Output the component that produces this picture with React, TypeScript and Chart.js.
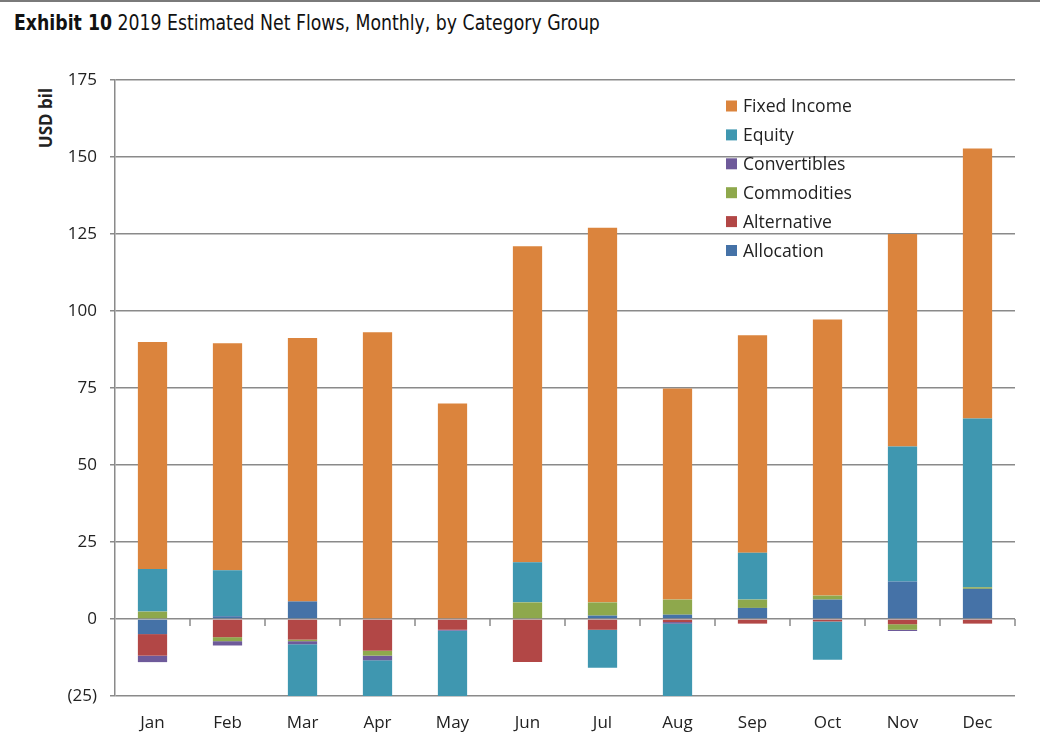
import { useEffect, useRef } from "react";
import { Chart, registerables } from "chart.js";

Chart.register(...registerables);

const months = ["Jan", "Feb", "Mar", "Apr", "May", "Jun", "Jul", "Aug", "Sep", "Oct", "Nov", "Dec"];

// USD bil (bars below -25 are cut off in the original)
const allocation = [-4.9, 0.9, 5.7, 0, 0, 0, 1.1, 1.4, 3.6, 6.3, 12.2, 9.8];
const alternative = [-7.0, -5.9, -6.7, -10.3, -3.5, -14.0, -3.5, -1.0, -1.5, -0.8, -1.7, -1.5];
const commodities = [2.4, -1.3, -0.5, -1.6, 0, 5.4, 4.3, 4.9, 2.7, 1.3, -1.8, 0.5];
const convertibles = [-2.1, -1.4, -1.0, -1.5, -0.3, 0, 0, -0.5, 0, 0, -0.4, 0];
const equity = [13.8, 14.9, -22.0, -18.0, -30.0, 13.0, -12.3, -28.0, 15.2, -12.4, 43.8, 54.8];
const fixedIncome = [73.7, 73.7, 85.5, 93.1, 70.0, 102.6, 121.6, 68.5, 70.6, 89.6, 69.0, 87.7];

const yTicks = [-25, 0, 25, 50, 75, 100, 125, 150, 175];

const FONT = '"Open Sans", "Noto Sans", sans-serif';
const GRID = "#8a8a8a";
const TEXT = "#222";

// Excel-style legend drawn inside the plot area, last series first
const insideLegend = {
  id: "insideLegend",
  afterDraw(chart: any) {
    const { ctx, chartArea } = chart;
    const items = chart.data.datasets.slice().reverse();
    const bx = chartArea.left + 611;
    const y0 = chartArea.top + 26;
    ctx.save();
    ctx.font = `17.6px ${FONT}`;
    ctx.textBaseline = "middle";
    items.forEach((d: any, i: number) => {
      const y = y0 + i * 28.9;
      ctx.fillStyle = d.backgroundColor;
      ctx.fillRect(bx, y - 5.5, 11, 11);
      ctx.fillStyle = TEXT;
      ctx.fillText(d.label, bx + 17, y + 1);
    });
    ctx.restore();
  },
};

// category tick marks hanging off the zero line
const zeroAxis = {
  id: "zeroAxis",
  beforeDatasetsDraw(chart: any) {
    const { ctx } = chart;
    const x = chart.scales.x;
    const y0 = chart.scales.y.getPixelForValue(0);
    const n = chart.data.labels.length;
    ctx.save();
    ctx.strokeStyle = GRID;
    ctx.lineWidth = 1.5;
    ctx.beginPath();
    for (let i = 1; i <= n; i++) {
      const px = i === n ? x.right : (x.getPixelForValue(i - 1) + x.getPixelForValue(i)) / 2;
      ctx.moveTo(px, y0);
      ctx.lineTo(px, y0 + 7);
    }
    ctx.stroke();
    ctx.restore();
  },
};

export default function App() {
  const canvasRef = useRef<HTMLCanvasElement | null>(null);
  const chartRef = useRef<Chart | null>(null);

  useEffect(() => {
    if (!canvasRef.current) return;
    chartRef.current?.destroy();

    const bar = (label: string, data: number[], color: string) => ({
      label,
      data,
      backgroundColor: color,
      borderWidth: 0,
      categoryPercentage: 1,
      barPercentage: 0.39,
    });

    chartRef.current = new Chart(canvasRef.current, {
      type: "bar",
      data: {
        labels: months,
        datasets: [
          bar("Allocation", allocation, "#4572A7"),
          bar("Alternative", alternative, "#B24746"),
          bar("Commodities", commodities, "#8EA84C"),
          bar("Convertibles", convertibles, "#6E5A9A"),
          bar("Equity", equity, "#3F97B0"),
          bar("Fixed Income", fixedIncome, "#DB843D"),
        ],
      },
      options: {
        responsive: true,
        maintainAspectRatio: false,
        animation: false,
        layout: { padding: { top: 80, right: 25, left: 0, bottom: 0 } },
        plugins: {
          legend: { display: false },
          tooltip: { enabled: false },
        },
        scales: {
          x: {
            stacked: true,
            grid: { display: false, drawTicks: false },
            border: { display: false },
            ticks: {
              color: TEXT,
              font: { family: FONT, size: 17 },
              padding: 17,
              maxRotation: 0,
            },
            afterFit: (s: any) => {
              s.height = 57;
            },
          },
          y: {
            stacked: true,
            min: -25,
            max: 175,
            afterBuildTicks: (s: any) => {
              s.ticks = yTicks.map((v) => ({ value: v }));
            },
            grid: { color: GRID, lineWidth: 1.5, tickLength: 5 },
            border: { display: true, color: GRID, width: 1.5 },
            ticks: {
              color: TEXT,
              font: { family: FONT, size: 17 },
              padding: 13,
              callback: (v: any) => (v < 0 ? `(${-v})` : `${v}`),
            },
            afterFit: (s: any) => {
              s.width = 115;
            },
          },
        },
      },
      plugins: [zeroAxis, insideLegend],
    });

    return () => chartRef.current?.destroy();
  }, []);

  return (
    <div
      style={{
        position: "absolute",
        left: 0,
        top: 0,
        width: 1040,
        height: 753,
        background: "#fff",
        overflow: "hidden",
      }}
    >
      <div style={{ position: "absolute", left: 0, top: 0, width: 1040, height: 2, background: "#7a7a7a" }} />
      <div
        style={{
          position: "absolute",
          left: 14,
          top: 10,
          whiteSpace: "nowrap",
          fontFamily: '"Liberation Sans Narrow", "DejaVu Sans Condensed", "Liberation Sans", sans-serif',
          fontStretch: "condensed",
          fontSize: 22,
          color: "#111",
          transformOrigin: "left top",
          transform: "scaleX(0.875)",
        }}
      >
        <b>Exhibit 10</b> 2019 Estimated Net Flows, Monthly, by Category Group
      </div>
      <div
        style={{
          position: "absolute",
          left: 45,
          top: 118,
          transform: "translate(-50%, -50%) rotate(-90deg)",
          fontFamily: FONT,
          fontWeight: 700,
          fontSize: 17,
          color: TEXT,
          whiteSpace: "nowrap",
        }}
      >
        USD bil
      </div>
      <div style={{ position: "absolute", left: 0, top: 0, width: 1040, height: 753 }}>
        <canvas ref={canvasRef} />
      </div>
    </div>
  );
}
